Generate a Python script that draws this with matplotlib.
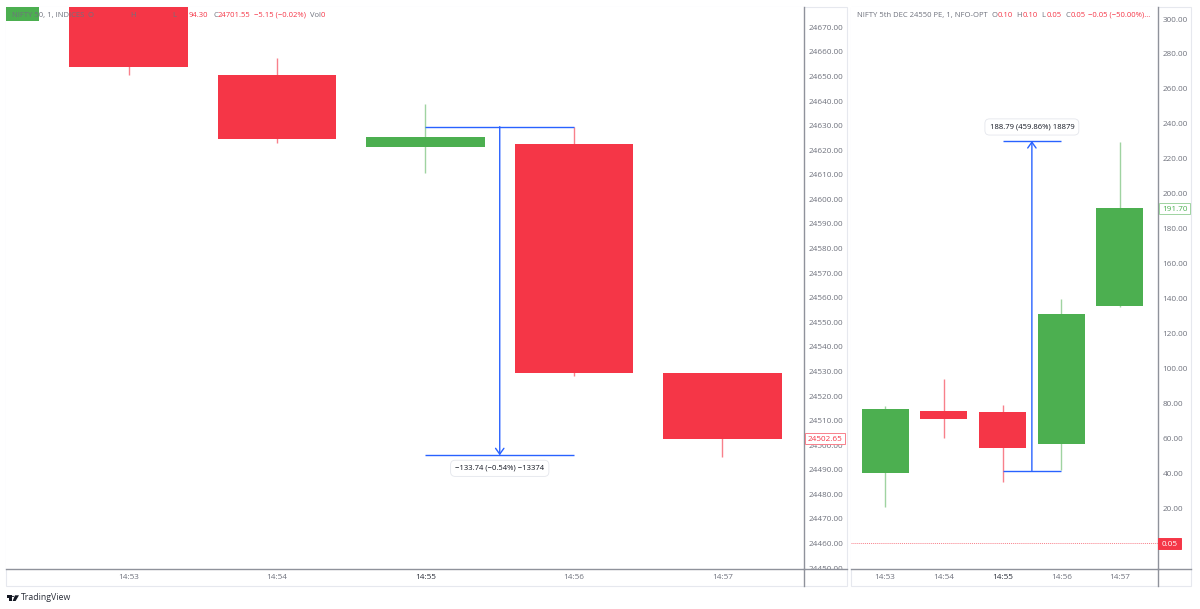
#!/usr/bin/env python
import matplotlib
matplotlib.use("Agg")
import matplotlib.pyplot as plt
from matplotlib.lines import Line2D
from matplotlib.patches import Rectangle, Polygon, Circle
from matplotlib.transforms import Bbox

W, H = 1200, 609
plt.rcParams["font.family"] = ["Open Sans", "DejaVu Sans"]

RED = "#f53647"
GREEN = "#4caf50"
RED_WICK = "#f8808b"
GREEN_WICK = "#9fd3a1"
BLUE = "#2962ff"
GREY = "#6f727d"
AXIS = "#8f929b"
BORDER = "#e6e8ee"
FS = 5.9
HEAD_FS = 5.5

times = ["14:53", "14:54", "14:55", "14:56", "14:57"]

# nifty index, first candle sits just off the left edge
nifty_x = [-1, 0, 1, 2, 3, 4]
nifty_open = [24672.6, 24692.0, 24650.7, 24621.2, 24622.6, 24529.2]
nifty_close = [24700.0, 24653.9, 24624.6, 24625.2, 24529.4, 24502.65]
nifty_high = [24705.0, 24697.0, 24657.6, 24638.9, 24629.5, 24529.2]
nifty_low = [24670.0, 24650.7, 24623.0, 24610.8, 24528.0, 24495.2]
nifty_ticks = list(range(24450, 24680, 10))

# option
opt_x = [0, 1, 2, 3, 4]
opt_open = [40.1, 75.6, 75.0, 56.7, 135.7]
opt_close = [76.7, 71.0, 54.4, 131.2, 191.7]
opt_high = [78.5, 93.9, 79.0, 139.8, 229.7]
opt_low = [20.6, 60.1, 34.9, 41.8, 135.0]
opt_ticks = list(range(20, 320, 20))
opt_last = 0.05

# measure tools: start, end, x from, x to, label
nifty_measure = (24629.6, 24495.86, 2, 3, "\u2212133.74 (\u22120.54%) \u221213374")
opt_measure = (41.4, 230.19, 2, 3, "188.79 (459.86%) 18879")


def px_x(x):
    return x / W


def px_y(y):
    return 1 - y / H


def make_axes(x0, x1, y0, y1):
    return fig.add_axes([px_x(x0), px_y(y1), (x1 - x0) / W, (y1 - y0) / H])


def candles(ax, xs, o, c, hi, lo):
    for i in range(len(xs)):
        up = c[i] >= o[i]
        ax.vlines(xs[i], lo[i], hi[i], color=GREEN_WICK if up else RED_WICK, linewidth=1.0, zorder=2)
        ax.bar(xs[i], abs(c[i] - o[i]), width=0.8, bottom=min(o[i], c[i]),
               color=GREEN if up else RED, linewidth=0, zorder=3)


def measure(ax, m, offset):
    start, end, x0, x1, label = m
    mid = (x0 + x1) / 2
    ax.hlines([start, end], x0, x1, color=BLUE, linewidth=1.0, zorder=4)
    ax.annotate("", xy=(mid, end), xytext=(mid, start), zorder=4,
                arrowprops=dict(arrowstyle="->,head_length=0.42,head_width=0.3", color=BLUE,
                                linewidth=1.0, shrinkA=0, shrinkB=0))
    ax.annotate(label, xy=(mid, end), xytext=(0, offset), textcoords="offset pixels",
                ha="center", va="center", fontsize=HEAD_FS, color="#131722", zorder=5,
                bbox=dict(boxstyle="round,pad=0.6", fc="white", ec="#e4e6ec", linewidth=0.6))


def style(ax, ticks, fmt):
    for s in ["top", "left"]:
        ax.spines[s].set_visible(False)
    for s in ["right", "bottom"]:
        ax.spines[s].set_color(AXIS)
        ax.spines[s].set_linewidth(1.0)
    ax.yaxis.tick_right()
    ax.set_yticks(ticks)
    ax.set_yticklabels([fmt % t for t in ticks])
    ax.set_xticks(range(len(times)))
    ax.set_xticklabels(times)
    ax.tick_params(axis="both", length=0, labelsize=FS, labelcolor=GREY)
    ax.tick_params(axis="y", pad=3.2)
    ax.tick_params(axis="x", pad=3.8)
    # 14:55 is the highlighted time
    ax.get_xticklabels()[2].set_color("#2a2e39")


def price_tag(x0, x1, yc, text, ec, fc, tc):
    fig.add_artist(Rectangle((px_x(x0), px_y(yc + 5.5)), (x1 - x0) / W, 11 / H, transform=fig.transFigure,
                             fc=fc, ec=ec, linewidth=0.7, zorder=6))
    fig.text(px_x((x0 + x1) / 2), px_y(yc), text, color=tc, fontsize=FS, ha="center", va="center_baseline", zorder=7)


def header(y, parts):
    for x, s, col in parts:
        fig.text(px_x(x), px_y(y), s, color=col, fontsize=HEAD_FS, ha="left", va="center", zorder=8)


fig = plt.figure(figsize=(W / 100, H / 100), dpi=100, facecolor="white")

# pane borders
for x0, x1 in [(6, 847), (851, 1191)]:
    fig.add_artist(Rectangle((px_x(x0), px_y(586)), (x1 - x0) / W, 579 / H, transform=fig.transFigure,
                             fc="none", ec=BORDER, linewidth=0.8, zorder=0))

# left pane
ax1 = make_axes(6, 804, 7, 569)
ax1.set_xlim(-0.825, 4.549)
ax1.set_ylim(24449.6, 24678.3)
candles(ax1, nifty_x, nifty_open, nifty_close, nifty_high, nifty_low)
measure(ax1, nifty_measure, -13)
style(ax1, nifty_ticks, "%.2f")

# right pane
ax2 = make_axes(851, 1158, 7, 569)
ax2.set_xlim(-0.579, 4.647)
ax2.set_ylim(-14.9, 306.9)
candles(ax2, opt_x, opt_open, opt_close, opt_high, opt_low)
measure(ax2, opt_measure, 14)
ax2.axhline(opt_last, color="#f8808b", linewidth=0.7, linestyle=(0, (1, 1)), zorder=1)
style(ax2, opt_ticks, "%.2f")

# 24450 label gets cut by the time axis
fig.canvas.draw()
for lab in ax1.get_yticklabels():
    lab.set_clip_on(True)
    lab.set_clip_box(Bbox([[0, H - 569], [W, H]]))

# axis lines carry on through the time scale
for x, x2, y, y2 in [(804, 804, 569, 586), (1158, 1158, 569, 586), (804, 847, 569, 569), (1158, 1191, 569, 569)]:
    fig.add_artist(Line2D([px_x(x), px_x(x2)], [px_y(y), px_y(y2)], color=AXIS, linewidth=1.0, zorder=2))

price_tag(805, 845, 438.5, "24502.65", RED_WICK, "white", RED)
price_tag(1159, 1190, 208.5, "191.70", GREEN_WICK, "white", GREEN)
price_tag(1158, 1181, 543, "0.05", RED, RED, "white")

header(15.5, [(11.5, "NIFTY 50, 1, INDICES", GREY), (88, "O", GREY), (130, "H", GREY), (172, "L", GREY),
              (188.5, "94.30", RED), (213, "C", GREY), (218, "24701.55", RED),
              (254, "\u22125.15 (\u22120.02%)", RED), (309.5, "Vol", GREY), (321, "0", RED)])
header(15.5, [(857, "NIFTY 5th DEC 24550 PE, 1, NFO-OPT", GREY), (991.5, "O", GREY), (998, "0.10", RED),
              (1016.5, "H", GREY), (1023, "0.10", RED), (1041.5, "L", GREY), (1047, "0.05", RED),
              (1065, "C", GREY), (1071, "0.05", RED), (1088.5, "\u22120.05 (\u221250.00%)...", RED)])

# watermark logo
k = "#131722"
fig.add_artist(Rectangle((px_x(6.5), px_y(597.5)), 5 / W, 2.2 / H, transform=fig.transFigure, fc=k, ec="none"))
fig.add_artist(Rectangle((px_x(9), px_y(601)), 2.5 / W, 5.7 / H, transform=fig.transFigure, fc=k, ec="none"))
fig.add_artist(Circle((px_x(13), px_y(596.4)), 1.1 / W, transform=fig.transFigure, fc=k, ec="none"))
fig.add_artist(Polygon([(px_x(15), px_y(595.3)), (px_x(19), px_y(595.3)), (px_x(15.6), px_y(601)), (px_x(12.6), px_y(601))],
                       closed=True, transform=fig.transFigure, fc=k, ec="none"))
fig.text(px_x(21), px_y(598), "TradingView", color="#2a2e39", fontsize=6.3, ha="left", va="center")

fig.savefig("out.png", dpi=100)
